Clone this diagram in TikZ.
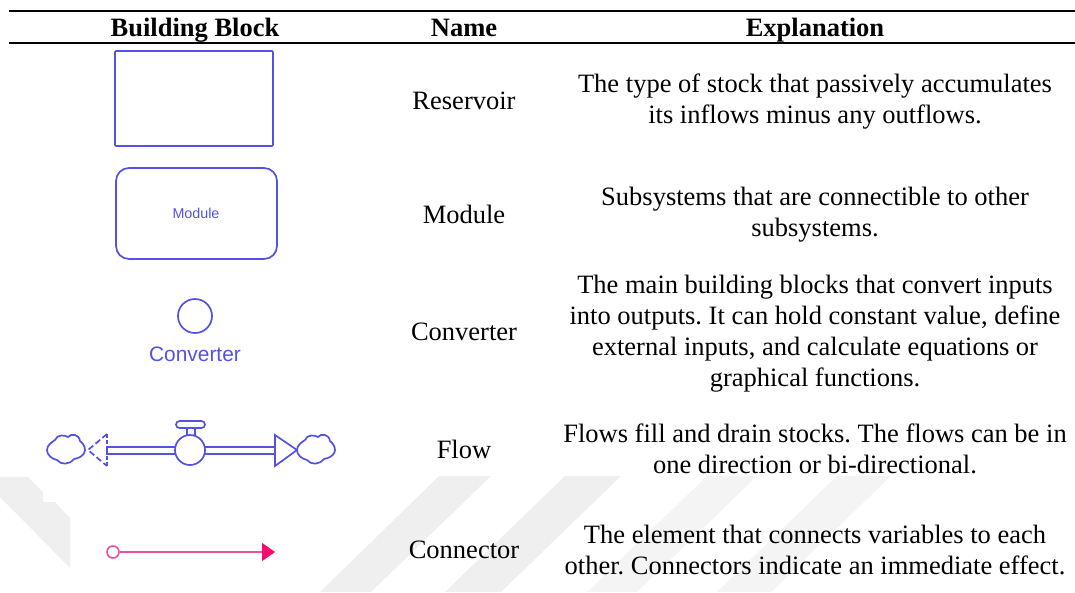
\documentclass[tikz,border=0pt]{standalone}
\usepackage{fontspec}
\setmainfont{Liberation Serif}
\newfontfamily\uifont{Liberation Sans}
\usetikzlibrary{arrows.meta}
\frenchspacing
\definecolor{blk}{HTML}{5252E4}
\definecolor{pnk}{HTML}{F2509E}
\definecolor{pnkd}{HTML}{FA0A6E}
\definecolor{wm}{HTML}{EFEFEF}
\definecolor{wmb}{HTML}{F4F4F4}
\tikzset{
 x=1pt,y=-1pt,
 cell/.style={font=\fontsize{26.5}{31}\selectfont,align=center,inner sep=0pt,text=black},
 head/.style={cell,anchor=base,font=\fontsize{26.5}{31}\selectfont\bfseries},
 shp/.style={draw=blk,line width=1.7pt},
 rule/.style={line width=2pt,black},
 wmark/.style={fill=wm,draw=none},
 wmarkb/.style={fill=wmb,draw=none}
}
\begin{document}
\begin{tikzpicture}
\useasboundingbox (0,0) rectangle (1075,592);
% watermark
\fill[wmark] (0,477) -- (28,477) -- (43,492) -- (43,502) -- (55,502) -- (70,518) -- (70,568) -- (0,497) -- cycle;
\fill[wmark] (439,476) -- (491,476) -- (371,592) -- (320,592) -- cycle;
\fill[wmark] (565,476) -- (621,476) -- (501,592) -- (445,592) -- cycle;
\fill[wmarkb] (707,476) -- (757,476) -- (637,592) -- (587,592) -- cycle;
\fill[wmarkb] (837,476) -- (891,476) -- (771,592) -- (717,592) -- cycle;
% rules
\coordinate (tl) at (9,11); \coordinate (tr) at (1075,11);
\coordinate (ml) at (9,43); \coordinate (mr) at (1075,43);
\draw[rule] (tl) -- (tr);
\draw[rule] (ml) -- (mr);
% header
\node[head] (h1) at (195,36) {Building Block};
\node[head] (h2) at (464,36) {Name};
\node[head] (h3) at (815,36) {Explanation};
% names
\node[cell] (n1) at (464,101) {Reservoir};
\node[cell] (n2) at (464,214) {Module};
\node[cell] (n3) at (464,332) {Converter};
\node[cell] (n4) at (464,449) {Flow};
\node[cell] (n5) at (464,550) {Connector};
% explanations
\node[cell] (e1) at (815,102) {The type of stock that passively accumulates\\its inflows minus any outflows.};
\node[cell] (e2) at (815,215) {Subsystems that are connectible to other\\subsystems.};
\node[cell] (e3) at (815,334) {The main building blocks that convert inputs\\into outputs. It can hold constant value, define\\external inputs, and calculate equations or\\graphical functions.};
\node[cell] (e4) at (815,449) {Flows fill and drain stocks. The flows can be in\\one direction or bi-directional.};
\node[cell] (e5) at (815,550) {The element that connects variables to each\\other. Connectors indicate an immediate effect.};
% reservoir
\draw[shp,rounded corners=1pt] (115,51) rectangle (273,146);
% module
\draw[shp,rounded corners=13pt] (116,168) rectangle (277,259);
\node[inner sep=0pt,text=blk,font=\uifont\fontsize{14.3}{16}\selectfont] (modt) at (196,213) {Module};
% converter
\node[shp,circle,minimum size=34pt,inner sep=0pt] (conv) at (195,316) {};
\node[inner sep=0pt,text=blk,font=\uifont\fontsize{20.9}{24}\selectfont] (convt) at (195,354) {Converter};
% flow pipes
\draw[shp] (177,447) -- (107,447) -- (107,454) -- (177,454);
\draw[shp] (205,447) -- (275,447) (205,454) -- (275,454);
% valve
\node[shp,circle,minimum size=30pt,inner sep=0pt,fill=white] (valve) at (190,450) {};
\draw[shp,rounded corners=3.5pt,fill=white] (176,421) rectangle (205,428);
\coordinate (st1) at (187,428); \coordinate (st2) at (195,428);
\draw[shp] (st1) -- (187,436) (st2) -- (195,436);
% arrowheads
\draw[shp,line join=miter,fill=white] (275,435) -- (297,450) -- (275,466) -- cycle;
\draw[shp,dash pattern=on 6pt off 3pt] (107,434) -- (88,450) -- (107,466);
\draw[shp,dash pattern=on 4pt off 2pt] (107,434) -- (107,445) (107,456) -- (107,466);
% clouds
\newcommand{\cld}[2]{\draw[shp,fill=white] (#1-38,#2) .. controls (#1-38,#2-5) and (#1-33,#2-8) .. (#1-30,#2-10) .. controls (#1-28,#2-16) and (#1-20,#2-15) .. (#1-17,#2-13) .. controls (#1-14,#2-17) and (#1-6,#2-16) .. (#1-5,#2-9) .. controls (#1-2,#2-7) and (#1+0,#2-3) .. (#1+0,#2) .. controls (#1-1,#2+7) and (#1-7,#2+8) .. (#1-11,#2+9) .. controls (#1-16,#2+15) and (#1-24,#2+15) .. (#1-28,#2+10) .. controls (#1-33,#2+9) and (#1-38,#2+5) .. cycle;}
\cld{85}{450}
\cld{335}{450}
% connector
\node[draw=pnk,line width=1.6pt,circle,minimum size=12pt,inner sep=0pt] (cs) at (113,552) {};
\coordinate (ce) at (275,552);
\draw[draw=pnk,line width=1.5pt,-{Triangle[length=13pt,width=18pt,color=pnkd]}] (cs) -- (ce);
\end{tikzpicture}
\end{document}
